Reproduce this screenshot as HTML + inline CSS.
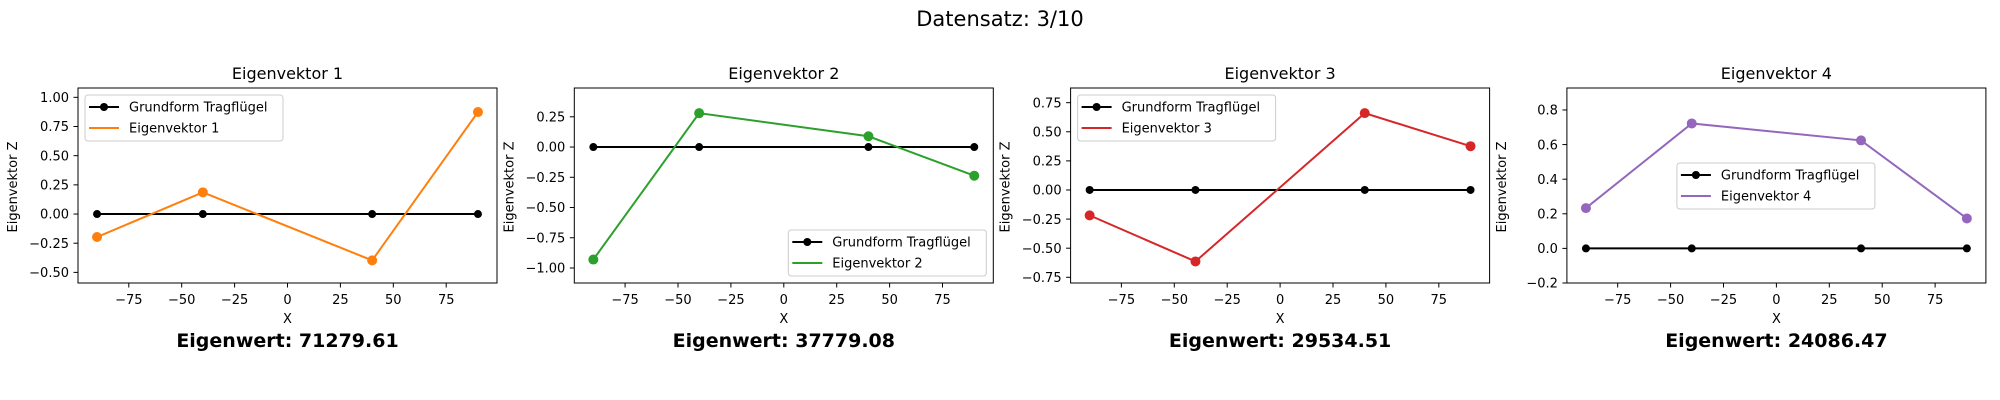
<!DOCTYPE html>
<html><head><meta charset="utf-8">
<style>
html,body{margin:0;padding:0;background:#fff;}
svg{display:block;font-family:"DejaVu Sans","Liberation Sans",sans-serif;}
</style></head>
<body>
<svg id="fig" width="2000" height="400" viewBox="0 0 2000 400" xmlns="http://www.w3.org/2000/svg">
<rect width="2000" height="400" fill="#fff"/>
<text x="1000" y="26" font-size="21" text-anchor="middle">Datensatz: 3/10</text>
</svg>
<script>
const xPositions = [-90, -40, 40, 90];
const baseValues = [0, 0, 0, 0];
const ev1 = [-0.197, 0.186, -0.397, 0.874];
const ev2 = [-0.93, 0.28, 0.089, -0.237];
const ev3 = [-0.218, -0.614, 0.66, 0.376];
const ev4 = [0.233, 0.722, 0.624, 0.173];
const eigenwerte = ["71279.61", "37779.08", "29534.51", "24086.47"];
const xTicks = [-75, -50, -25, 0, 25, 50, 75];
const yTicks1 = [-0.50, -0.25, 0.00, 0.25, 0.50, 0.75, 1.00];
const yTicks2 = [-1.00, -0.75, -0.50, -0.25, 0.00, 0.25];
const yTicks3 = [-0.75, -0.50, -0.25, 0.00, 0.25, 0.50, 0.75];
const yTicks4 = [-0.2, 0.0, 0.2, 0.4, 0.6, 0.8];
const yLims = [[-0.591, 1.08], [-1.124, 0.488], [-0.799, 0.876], [-0.2, 0.927]];
const xLim = [-99, 99];

const svgRoot = document.getElementById('fig');
const NS = 'http://www.w3.org/2000/svg';
function mk(tag, attrs, parent) {
  const e = document.createElementNS(NS, tag);
  for (const k in attrs) e.setAttribute(k, attrs[k]);
  (parent || svgRoot).appendChild(e);
  return e;
}
function fmtTick(v, dec) {
  const s = Math.abs(v).toFixed(dec);
  return (v < -1e-9 ? '\u2212' : '') + s;
}
const panels = [
  {series: ev1, ticks: yTicks1, dec: 2, color: '#ff7f0e', legend: 'ul'},
  {series: ev2, ticks: yTicks2, dec: 2, color: '#2ca02c', legend: 'lr'},
  {series: ev3, ticks: yTicks3, dec: 2, color: '#d62728', legend: 'ul'},
  {series: ev4, ticks: yTicks4, dec: 1, color: '#9467bd', legend: 'c'}
];
const left0 = 78, stepX = 496.3, axW = 419, axTop = 88, axBottom = 283;
panels.forEach((p, i) => {
  const L = left0 + i * stepX, R = L + axW;
  const g = mk('g', {});
  
  
  const y0 = yLims[i][0], y1 = yLims[i][1];
  const sx = v => L + (v - xLim[0]) / (xLim[1] - xLim[0]) * axW;
  const sy = v => axBottom - (v - y0) / (y1 - y0) * (axBottom - axTop);
  const t = mk('text', {x: L + axW / 2, y: 79, 'font-size': 16, 'text-anchor': 'middle'}, g);
  t.textContent = 'Eigenvektor ' + (i + 1);
  
  
  xTicks.forEach(v => {
    const x = sx(v);
    mk('line', {x1: x, x2: x, y1: axBottom, y2: axBottom + 4.5, stroke: '#000', 'stroke-width': 1}, g);
    const tt = mk('text', {x: x, y: axBottom + 21, 'font-size': 13, 'text-anchor': 'middle'}, g);
    tt.textContent = fmtTick(v, 0);
    
    
  });
  p.ticks.forEach(v => {
    const y = sy(v);
    mk('line', {x1: L - 4.5, x2: L, y1: y, y2: y, stroke: '#000', 'stroke-width': 1}, g);
    const tt = mk('text', {x: L - 9, y: y + 4.7, 'font-size': 13, 'text-anchor': 'end'}, g);
    tt.textContent = fmtTick(v, p.dec);
    
    
  });
  const xl = mk('text', {x: L + axW / 2, y: 323, 'font-size': 13, 'text-anchor': 'middle'}, g);
  xl.textContent = 'X';
  
  
  const yx = L - 61;
  const yl = mk('text', {x: yx, y: 187, 'font-size': 13, 'text-anchor': 'middle', transform: 'rotate(-90 ' + yx + ' 187)'}, g);
  yl.textContent = 'Eigenvektor Z';
  
  
  const ew = mk('text', {x: L + axW / 2, y: 347, 'font-size': 19, 'font-weight': 'bold', 'text-anchor': 'middle'}, g);
  ew.textContent = 'Eigenwert: ' + eigenwerte[i];
  
  
  const bp = xPositions.map((x, k) => sx(x) + ',' + sy(baseValues[k])).join(' ');
  const bl = mk('polyline', {points: bp, fill: 'none', stroke: '#000', 'stroke-width': 2}, g);
  
  
  xPositions.forEach((x, k) => {
    const c = mk('circle', {cx: sx(x), cy: sy(baseValues[k]), r: 4, fill: '#000'}, g);
    
    
  });
  const ep = xPositions.map((x, k) => sx(x) + ',' + sy(p.series[k])).join(' ');
  const el = mk('polyline', {points: ep, fill: 'none', stroke: p.color, 'stroke-width': 2}, g);
  
  
  xPositions.forEach((x, k) => {
    const c = mk('circle', {cx: sx(x), cy: sy(p.series[k]), r: 5, fill: p.color}, g);
    
    
  });
  mk('rect', {x: L, y: axTop, width: axW, height: axBottom - axTop, fill: 'none', stroke: '#000', 'stroke-width': 1}, g);
  let lx, ly;
  const lw = 198, lh = 46;
  if (p.legend === 'ul') { lx = L + 7; ly = axTop + 7; }
  else if (p.legend === 'lr') { lx = R - 7 - lw; ly = axBottom - 7 - lh; }
  else { lx = L + 110; ly = 163; }
  const lg = mk('g', {}, g);
  
  
  mk('rect', {x: lx, y: ly, width: lw, height: lh, rx: 3, fill: '#fff', 'fill-opacity': 0.8, stroke: '#ccc', 'stroke-width': 1}, lg);
  mk('line', {x1: lx + 4, x2: lx + 34, y1: ly + 12, y2: ly + 12, stroke: '#000', 'stroke-width': 2}, lg);
  mk('circle', {cx: lx + 19, cy: ly + 12, r: 4, fill: '#000'}, lg);
  const l1 = mk('text', {x: lx + 44, y: ly + 16.5, 'font-size': 13}, lg);
  l1.textContent = 'Grundform Tragflügel';
  
  
  mk('line', {x1: lx + 4, x2: lx + 34, y1: ly + 33, y2: ly + 33, stroke: p.color, 'stroke-width': 2}, lg);
  const l2 = mk('text', {x: lx + 44, y: ly + 37.5, 'font-size': 13}, lg);
  l2.textContent = 'Eigenvektor ' + (i + 1);
  
  
});
</script>
</body></html>
